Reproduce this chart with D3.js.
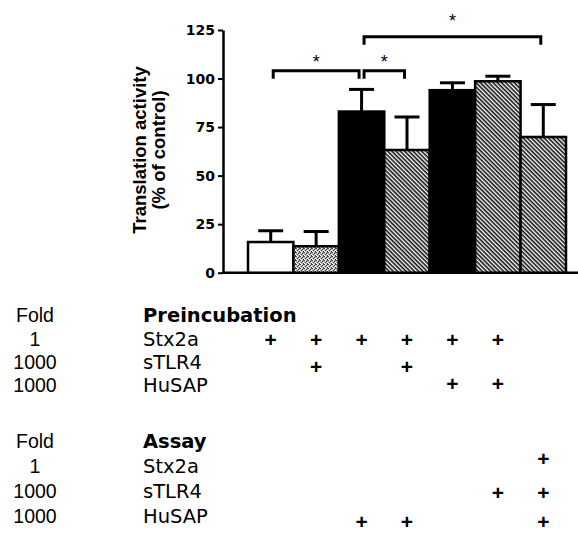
<!DOCTYPE html>
<html>
<head>
<meta charset="utf-8">
<script src="https://cdn.jsdelivr.net/npm/d3@7"></script>
<style>
  body { margin: 0; background: #fff; }
  svg { display: block; font-family: 'Liberation Sans', Arial, sans-serif; }
</style>
</head>
<body>
<div id="chart"></div>
<script>
// bar values (% of control) and upper error (SEM)
const groups = ['g1', 'g2', 'g3', 'g4', 'g5', 'g6', 'g7'];
const means = [15.8, 13.6, 83, 63.2, 94, 98.6, 69.9];
const sems = [5.8, 7.6, 11.4, 17, 3.8, 2.6, 16.7];
const fills = ['white', 'stipple', 'black', 'hatch', 'black', 'hatch', 'hatch'];
const yTicks = [0, 25, 50, 75, 100, 125];

// significance brackets: bar index a to bar index b, at a value level
const comparisons = [
    {a: 0, b: 2, level: 104, label: '*'},
    {a: 2, b: 3, level: 104, label: '*'},
    {a: 2, b: 6, level: 121.5, label: '*'}
];

// treatment table
const agents = ['Stx2a', 'sTLR4', 'HuSAP'];
const folds = ['1', '1000', '1000'];
const preincubation = [
    [1, 1, 1, 1, 1, 1, 0],
    [0, 1, 0, 1, 0, 0, 0],
    [0, 0, 0, 0, 1, 1, 0]
];
const assay = [
    [0, 0, 0, 0, 0, 0, 1],
    [0, 0, 0, 0, 0, 1, 1],
    [0, 0, 1, 1, 0, 0, 1]
];

const width = 578, height = 533;

const svg = d3.select('#chart')
    .append('svg')
    .attr('width', width)
    .attr('height', height);

const defs = svg.append('defs');

const hatch = defs.append('pattern')
    .attr('id', 'hatch')
    .attr('patternUnits', 'userSpaceOnUse')
    .attr('width', 3)
    .attr('height', 3)
    .attr('patternTransform', 'rotate(45)');
hatch.append('rect').attr('width', 3).attr('height', 3).attr('fill', '#fff');
hatch.append('rect').attr('width', 3).attr('height', 1.6).attr('fill', '#111');

const stipple = defs.append('pattern')
    .attr('id', 'stipple')
    .attr('patternUnits', 'userSpaceOnUse')
    .attr('width', 4)
    .attr('height', 4);
stipple.append('rect').attr('width', 4).attr('height', 4).attr('fill', '#bdbdbd');
[[0, 0], [2, 1], [1, 2], [3, 3], [3, 0]].forEach(function(p) {
    stipple.append('rect')
        .attr('x', p[0]).attr('y', p[1])
        .attr('width', 1).attr('height', 1)
        .attr('fill', '#444');
});
[[1, 0], [3, 2], [0, 3]].forEach(function(p) {
    stipple.append('rect')
        .attr('x', p[0]).attr('y', p[1])
        .attr('width', 1).attr('height', 1)
        .attr('fill', '#fff');
});

function fillFor(f) {
    if (f === 'hatch') return 'url(#hatch)';
    if (f === 'stipple') return 'url(#stipple)';
    return f === 'black' ? '#000' : '#fff';
}

const axisX = 223;

const y = d3.scaleLinear()
    .domain([0, 125])
    .range([272.7, 30]);

const x = d3.scaleBand()
    .domain(d3.range(groups.length))
    .range([248, 566])
    .padding(0);

const cx = function(i) { return x(i) + x.bandwidth() / 2; };

// baseline
svg.append('line')
    .attr('x1', axisX).attr('x2', width)
    .attr('y1', y(0)).attr('y2', y(0))
    .attr('stroke', '#000')
    .attr('stroke-width', 2.5);

// bars
svg.selectAll('rect.bar')
    .data(means)
    .join('rect')
    .classed('bar', true)
    .attr('x', function(d, i) { return x(i); })
    .attr('y', function(d) { return y(d); })
    .attr('width', x.bandwidth())
    .attr('height', function(d) { return y(0) - y(d); })
    .attr('fill', function(d, i) { return fillFor(fills[i]); })
    .attr('stroke', '#000')
    .attr('stroke-width', 2.5);

// error bars (upper only)
const err = svg.selectAll('g.err')
    .data(means)
    .join('g')
    .classed('err', true)
    .attr('stroke', '#000')
    .attr('stroke-width', 3);

err.append('line')
    .attr('x1', function(d, i) { return cx(i); })
    .attr('x2', function(d, i) { return cx(i); })
    .attr('y1', function(d) { return y(d); })
    .attr('y2', function(d, i) { return y(d + sems[i]); });

err.append('line')
    .attr('x1', function(d, i) { return cx(i) - 12.5; })
    .attr('x2', function(d, i) { return cx(i) + 12.5; })
    .attr('y1', function(d, i) { return y(d + sems[i]); })
    .attr('y2', function(d, i) { return y(d + sems[i]); });

// y axis
const yAxis = svg.append('g')
    .attr('transform', 'translate(' + axisX + ',0)')
    .call(d3.axisLeft(y).tickValues(yTicks).tickSize(5).tickPadding(3).tickSizeOuter(0));

yAxis.select('.domain').attr('stroke-width', 2.5);
yAxis.selectAll('.tick line').attr('stroke-width', 2);
yAxis.selectAll('.tick text')
    .attr('font-family', "'DejaVu Sans', sans-serif")
    .attr('font-weight', 'bold')
    .attr('font-size', 14)
    .attr('fill', '#000');

// y axis title
const title = svg.append('text')
    .attr('transform', 'translate(146,150) rotate(-90)')
    .attr('text-anchor', 'middle')
    .attr('font-weight', 'bold')
    .attr('font-size', 18.5);
title.append('tspan').attr('x', 0).attr('dy', 0).text('Translation activity');
title.append('tspan').attr('x', 0).attr('dy', 19).text('(% of control)');

// significance brackets
const starGap = [13, 13, 20];
const br = svg.selectAll('g.bracket')
    .data(comparisons)
    .join('g')
    .classed('bracket', true);

br.append('path')
    .attr('fill', 'none')
    .attr('stroke', '#000')
    .attr('stroke-width', 3)
    .attr('d', function(d) {
        const x1 = cx(d.a) + 2.5, x2 = cx(d.b) - 2.5;
        const yl = y(d.level);
        return 'M' + x1 + ',' + (yl + 8) + 'V' + yl + 'H' + x2 + 'V' + (yl + 8);
    });

br.append('text')
    .attr('x', function(d) { return (cx(d.a) + cx(d.b)) / 2; })
    .attr('y', function(d, i) { return y(d.level) - starGap[i] + 10; })
    .attr('text-anchor', 'middle')
    .attr('font-size', 18)
    .text(function(d) { return d.label; });

// treatment table
const tables = [
    {title: 'Preincubation', rows: preincubation, titleY: 322, textY: [346, 369, 392], plusY: [340, 367, 384]},
    {title: 'Assay', rows: assay, titleY: 448, textY: [473, 498, 523], plusY: [459, 493, 522]}
];

tables.forEach(function(t) {
    const g = svg.append('g');

    g.append('text')
        .attr('x', 35).attr('y', t.titleY)
        .attr('text-anchor', 'middle')
        .attr('font-size', 19.5)
        .text('Fold');
    g.append('text')
        .attr('x', 143).attr('y', t.titleY)
        .attr('font-family', "'DejaVu Sans', sans-serif")
        .attr('font-size', 19.5)
        .attr('font-weight', 'bold')
        .text(t.title);

    agents.forEach(function(a, r) {
        g.append('text')
            .attr('x', 35).attr('y', t.textY[r])
            .attr('text-anchor', 'middle')
            .attr('font-size', 19.5)
            .text(folds[r]);
        g.append('text')
            .attr('x', 143).attr('y', t.textY[r])
            .attr('font-family', "'DejaVu Sans', sans-serif")
            .attr('font-size', 19.5)
            .text(a);

        g.selectAll('text.plus-' + r)
            .data(t.rows[r])
            .join('text')
            .attr('class', 'plus-' + r)
            .attr('x', function(d, i) { return cx(i); })
            .attr('y', t.plusY[r] + 7)
            .attr('text-anchor', 'middle')
            .attr('font-size', 21)
            .attr('font-weight', 'bold')
            .text(function(d) { return d ? '+' : ''; });
    });
});
</script>
</body>
</html>
